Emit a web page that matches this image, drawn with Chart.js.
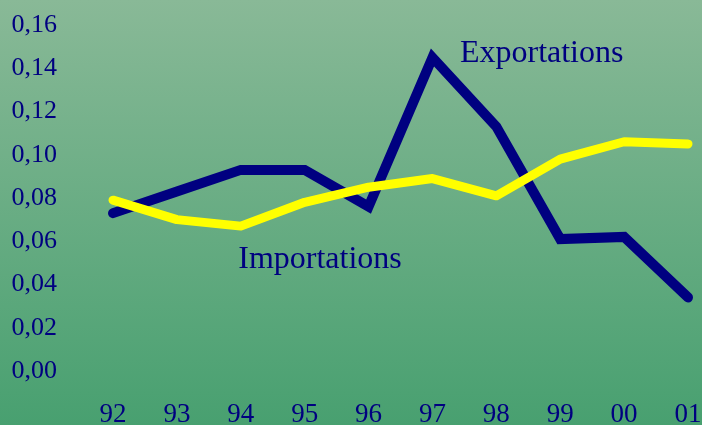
<!DOCTYPE html>
<html>
<head>
<meta charset="utf-8">
<script src="https://cdn.jsdelivr.net/npm/chart.js@4"></script>
<style>
html,body{margin:0;padding:0;background:#6aae85;overflow:hidden;}
canvas{display:block;}
</style>
</head>
<body>
<canvas id="c" width="702" height="425"></canvas>
<script>
const categories = ['92','93','94','95','96','97','98','99','00','01'];
const exportations = [0.073, 0.083, 0.093, 0.093, 0.076, 0.145, 0.113, 0.061, 0.062, 0.034];
const importations = [0.079, 0.070, 0.067, 0.078, 0.085, 0.089, 0.081, 0.098, 0.106, 0.105];
const yTicks = [0, 0.02, 0.04, 0.06, 0.08, 0.10, 0.12, 0.14, 0.16];
// annotation anchors: [text, category index, value]
const seriesLabels = [
  ['Exportations', 6.71, 0.1429],
  ['Importations', 3.24, 0.0476]
];

const NAVY = '#000080';
const FONT = '"Liberation Serif", "Times New Roman", serif';

const bgPlugin = {
  id: 'bg',
  beforeDraw(chart) {
    const ctx = chart.ctx;
    const g = ctx.createLinearGradient(0, 0, 0, chart.height);
    g.addColorStop(0, 'rgb(137,185,151)');
    g.addColorStop(1, 'rgb(72,160,112)');
    ctx.save();
    ctx.fillStyle = g;
    ctx.fillRect(0, 0, chart.width, chart.height);
    ctx.restore();
  }
};

const labelPlugin = {
  id: 'seriesLabels',
  afterDatasetsDraw(chart) {
    const ctx = chart.ctx;
    const xs = chart.scales.x, ys = chart.scales.y;
    ctx.save();
    ctx.font = '32px ' + FONT;
    ctx.fillStyle = NAVY;
    ctx.textAlign = 'center';
    ctx.textBaseline = 'alphabetic';
    seriesLabels.forEach(([t, i, v]) => {
      ctx.fillText(t, xs.getPixelForValue(i), ys.getPixelForValue(v));
    });
    ctx.restore();
  }
};

new Chart(document.getElementById('c'), {
  type: 'line',
  data: {
    labels: categories,
    datasets: [
      {
        label: 'Importations',
        data: importations,
        borderColor: '#ffff00',
        borderWidth: 9,
        pointRadius: 0,
        tension: 0,
        borderCapStyle: 'round',
        borderJoinStyle: 'round',
        clip: false
      },
      {
        label: 'Exportations',
        data: exportations,
        borderColor: NAVY,
        borderWidth: 10,
        pointRadius: 0,
        tension: 0,
        borderCapStyle: 'round',
        borderJoinStyle: 'miter',
        clip: false
      }
    ]
  },
  options: {
    responsive: false,
    animation: false,
    devicePixelRatio: 1,
    layout: { autoPadding: false, padding: { top: 25, right: 14, left: 0, bottom: 0 } },
    plugins: { legend: { display: false }, tooltip: { enabled: false } },
    scales: {
      x: {
        offset: false,
        grid: { display: false, drawTicks: false },
        border: { display: false },
        ticks: {
          color: NAVY,
          font: { family: FONT, size: 27 },
          padding: 28,
          maxRotation: 0,
          autoSkip: false
        },
        afterFit(s) { s.height = 54; s.paddingLeft = 0; s.paddingRight = 0; }
      },
      y: {
        min: 0,
        max: 0.16,
        grid: { display: false, drawTicks: false },
        border: { display: false },
        afterBuildTicks(s) { s.ticks = yTicks.map(v => ({ value: v })); },
        ticks: {
          color: NAVY,
          font: { family: FONT, size: 26 },
          padding: 56,
          callback: v => v.toFixed(2).replace('.', ',')
        },
        afterFit(s) { s.width = 113; s.paddingTop = 0; s.paddingBottom = 0; }
      }
    }
  },
  plugins: [bgPlugin, labelPlugin]
});
</script>
</body>
</html>
